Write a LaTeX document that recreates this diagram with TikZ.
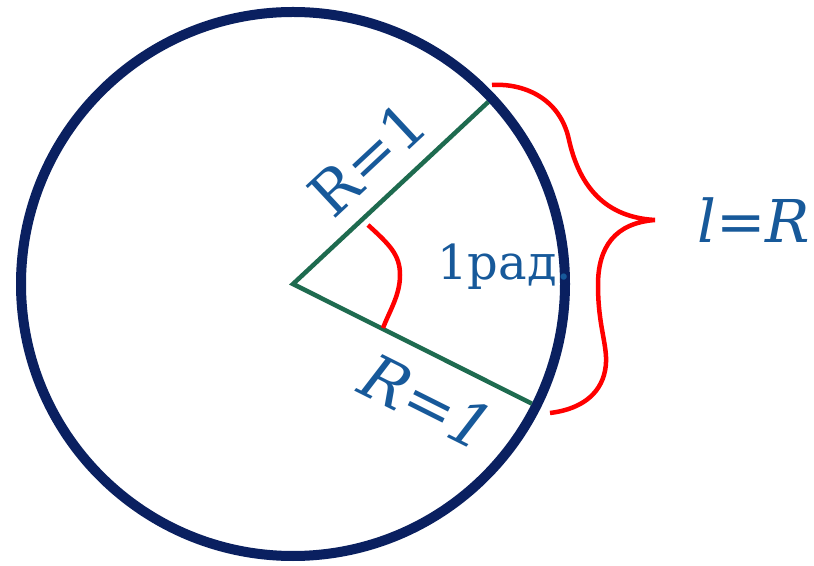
\documentclass[tikz,border=0pt]{standalone}
\usepackage{fontspec}
\setmainfont{DejaVu Serif}
\usepackage{xcolor}
\definecolor{circnavy}{HTML}{0A2060}
\definecolor{radgreen}{HTML}{1E6B4F}
\definecolor{textblue}{HTML}{17599A}
\definecolor{markred}{HTML}{FF0000}
\usepackage{tikz}
\usetikzlibrary{calc}

\begin{document}
\begin{tikzpicture}[x=1pt, y=1pt, inner sep=0pt,
    lbl/.style={text=textblue, font=\fontsize{#1}{#1}\selectfont}]
  \fill[white] (0,0) rectangle (814,565);
  \useasboundingbox (0,0) rectangle (814,565);

  \coordinate (O) at (293,281);
  \coordinate (A) at ($(O)+(43:267)$);
  \coordinate (B) at ($(O)+(-26.6:267)$);

  \draw[line width=10pt, circnavy] (O) circle[radius=272];
  \draw[line width=4.5pt, radgreen] (A) -- (O) -- (B);

  % angle mark
  \coordinate (a1) at (368,340);
  \coordinate (a2) at (383,237);
  \draw[line width=4.5pt, markred] (a1) .. controls (390,320) and (400,310) .. (400,290)
        .. controls (400,270) and (390,255) .. (a2);

  % brace for the arc
  \coordinate (b1) at (492,480);
  \coordinate (tip) at (655,345);
  \coordinate (b2) at (550,152);
  \draw[line width=4.5pt, markred] (b1) .. controls (522,482) and (560,468) .. (569,425)
        .. controls (578,385) and (600,348) .. (tip)
        .. controls (615,342) and (598,318) .. (598,280)
        .. controls (598,232) and (611,215) .. (604,190)
        .. controls (597,166) and (575,155) .. (b2);

  \node[lbl=60, rotate=43, anchor=base west] (r1)
        at ($(O)+(43:73)+(133:19)$) {R=1};
  \node[lbl=62, rotate=-26.6, anchor=base west] (r2)
        at ($(O)+(-26.6:104)+(-116.6:68)$) {\itshape R=1};
  \node[lbl=48, anchor=base west] (rad) at (437,285) {1рад.};
  \node[lbl=59, anchor=base west] (len) at (697,322) {\itshape l=R};
\end{tikzpicture}
\end{document}
